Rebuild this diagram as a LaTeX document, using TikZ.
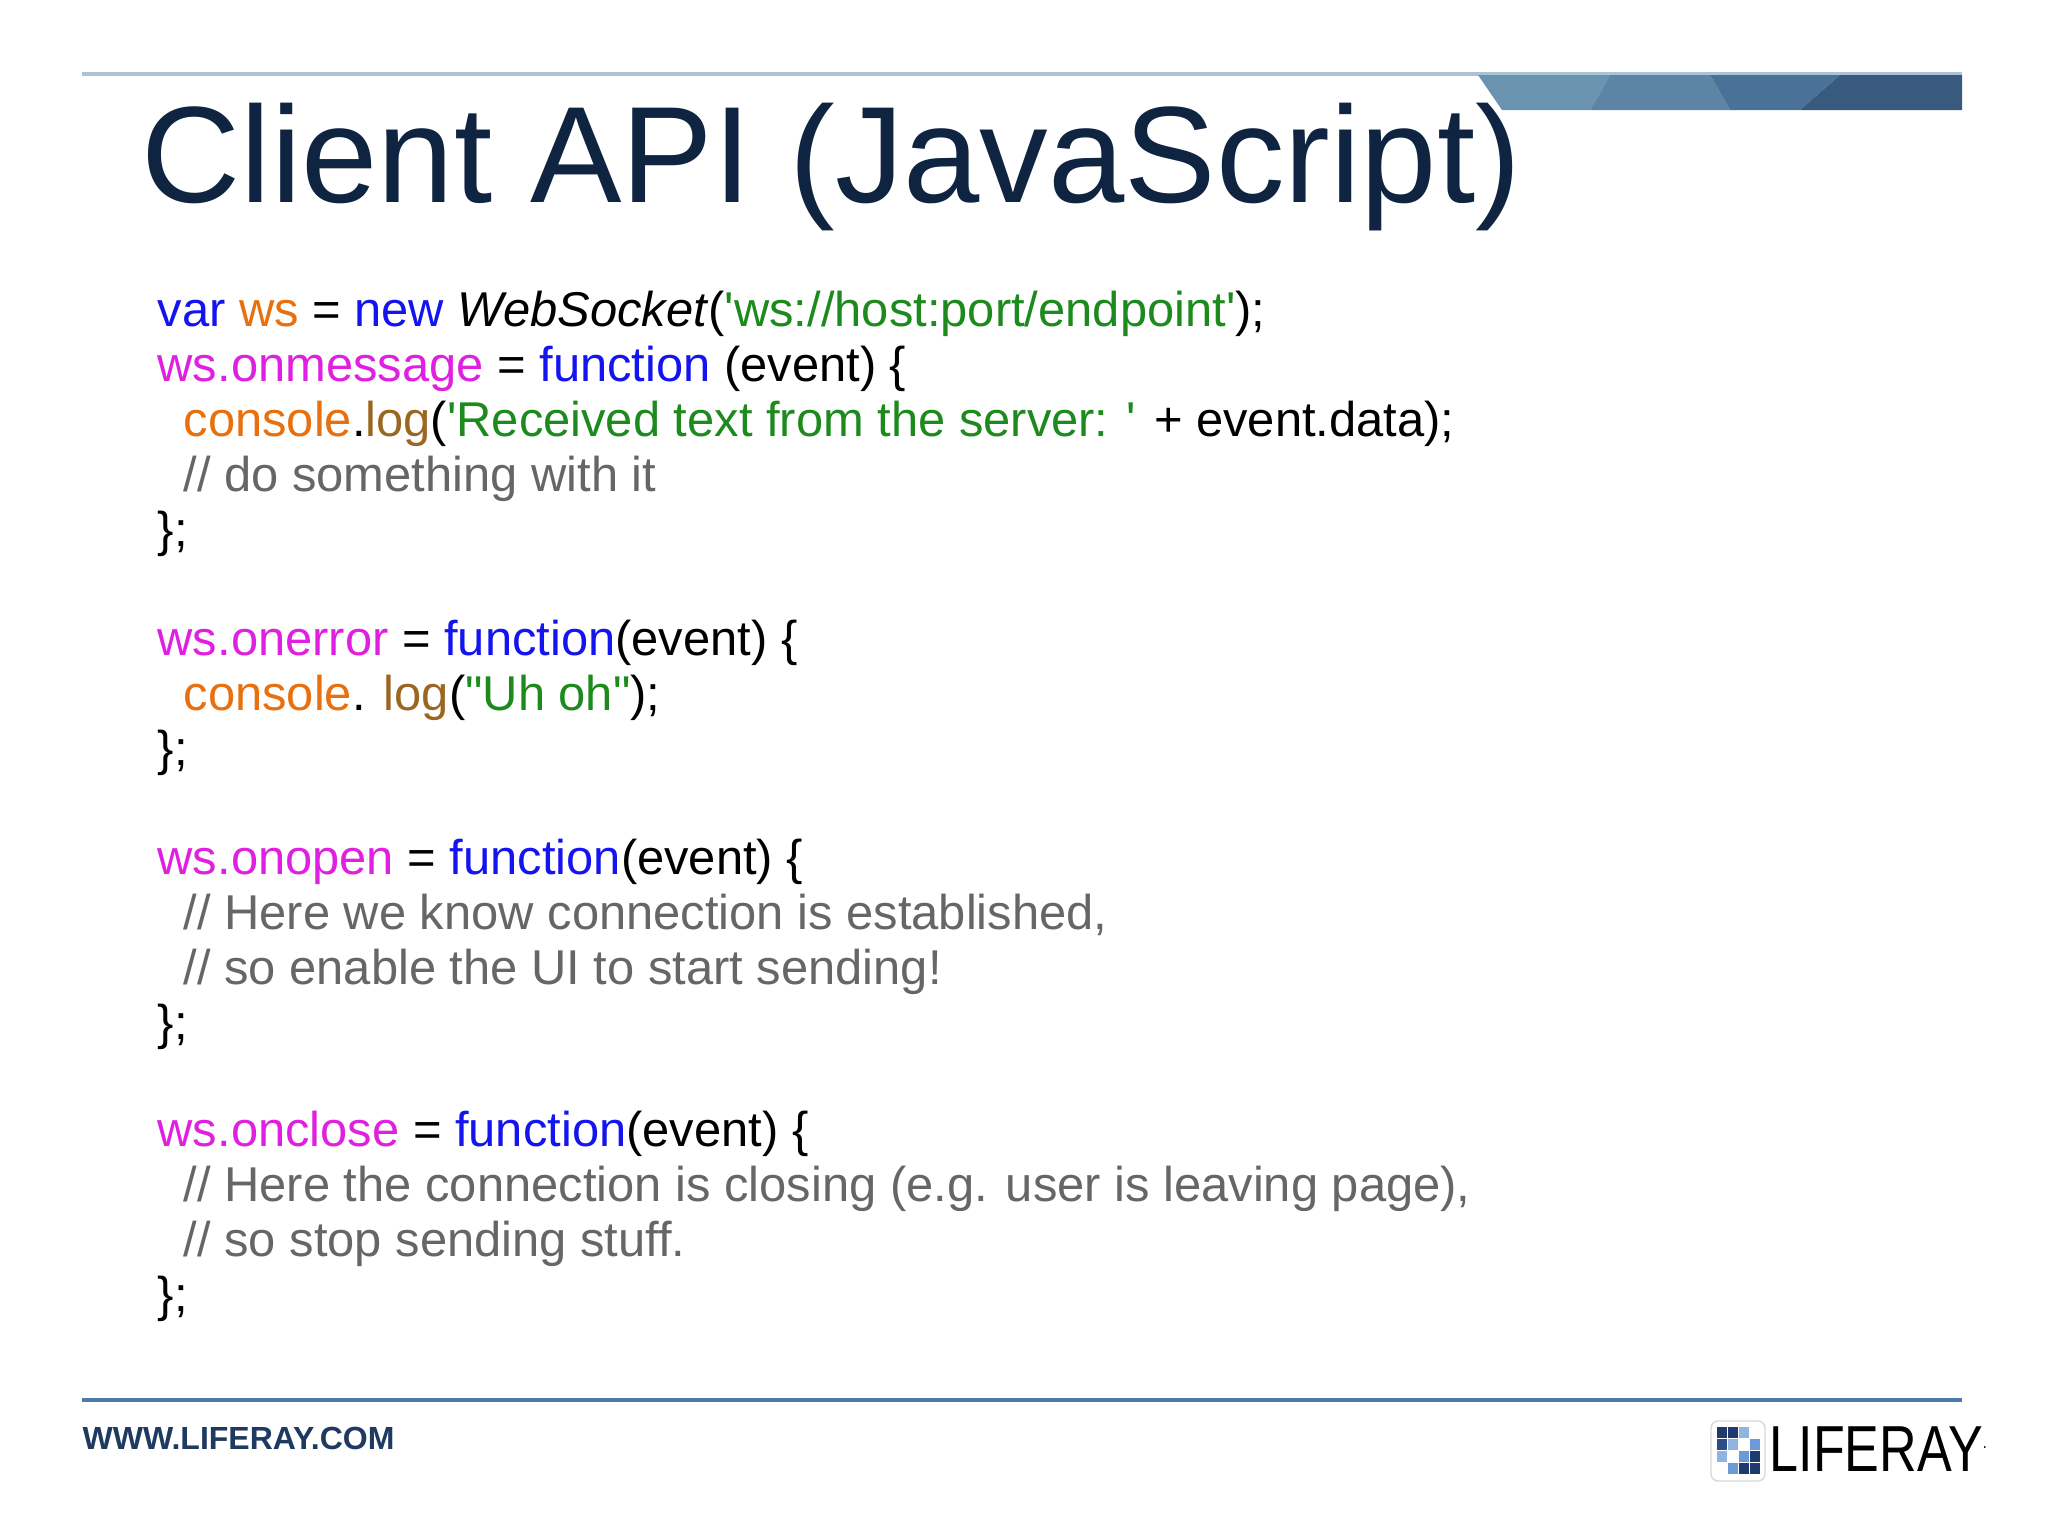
\documentclass[tikz,border=0pt]{standalone}
\usepackage{fontspec}
\setmainfont{Liberation Sans}
\newfontfamily\code{Liberation Sans}
\newfontfamily\narrowf[FakeStretch=0.8]{Liberation Sans}
\definecolor{kw}{HTML}{1414F0}
\definecolor{org}{HTML}{E8700E}
\definecolor{mag}{HTML}{E020E0}
\definecolor{grn}{HTML}{1C8A1C}
\definecolor{brn}{HTML}{9A6620}
\definecolor{cmt}{HTML}{666666}
\definecolor{navy}{HTML}{0F2440}
\definecolor{bA}{HTML}{6A93B0}
\definecolor{bB}{HTML}{5D84A5}
\definecolor{bC}{HTML}{4A7298}
\definecolor{bD}{HTML}{375A7E}
\definecolor{rule}{HTML}{4A7AA5}
\definecolor{wwwc}{HTML}{1F3A60}
\definecolor{toprule}{HTML}{AAC3D7}
\tikzset{cl/.style={anchor=base west,inner sep=0pt,font=\code\fontsize{13.9}{16}\selectfont}}
\newcommand{\K}[1]{\textcolor{kw}{#1}}
\newcommand{\Or}[1]{\textcolor{org}{#1}}
\newcommand{\M}[1]{\textcolor{mag}{#1}}
\newcommand{\G}[1]{\textcolor{grn}{#1}}
\newcommand{\B}[1]{\textcolor{brn}{#1}}
\newcommand{\C}[1]{\textcolor{cmt}{#1}}
\begin{document}
\begin{tikzpicture}[x=0.01cm,y=-0.01cm]
\useasboundingbox (0,0) rectangle (2048,1536);
\fill[white] (0,0) rectangle (2048,1536);
% top rule and banner
\draw[toprule,line width=1.2pt] (82,74) -- (1962,74);
\fill[bA] (1478,75) -- (1610,75) -- (1590,110) -- (1502,110) -- cycle;
\fill[bB] (1610,75) -- (1710,75) -- (1730,110) -- (1590,110) -- cycle;
\fill[bC] (1710,75) -- (1840,75) -- (1800,110) -- (1730,110) -- cycle;
\fill[bD] (1840,75) -- (1962,75) -- (1962,110) -- (1800,110) -- cycle;
\node[anchor=base west,inner sep=0pt,text=navy,font=\fontsize{39}{44}\selectfont] (title) at (141,202) {Client API (JavaScript)};
% code
\node[cl] (l1) at (157,326) {\K{var} \Or{ws} = \K{new} \textit{WebSocket}(\G{'ws://host:port/endpoint'});};
\node[cl] (l2) at (157,381) {\M{ws.onmessage} = \K{function} (event) \{};
\node[cl] (l3) at (183,436) {\Or{console}.\B{log}(\G{'Received text from the server: '} + event.data);};
\node[cl] (l4) at (183,491) {\C{// do something with it}};
\node[cl] (l5) at (157,546) {\};};
\node[cl] (l6) at (157,655) {\M{ws.onerror} = \K{function}(event) \{};
\node[cl] (l7) at (183,710) {\Or{console}. \B{log}(\G{"Uh oh"});};
\node[cl] (l8) at (157,765) {\};};
\node[cl] (l9) at (157,874) {\M{ws.onopen} = \K{function}(event) \{};
\node[cl] (l10) at (183,929) {\C{// Here we know connection is established,}};
\node[cl] (l11) at (183,984) {\C{// so enable the UI to start sending!}};
\node[cl] (l12) at (157,1039) {\};};
\node[cl] (l13) at (157,1146) {\M{ws.onclose} = \K{function}(event) \{};
\node[cl] (l14) at (183,1201) {\C{// Here the connection is closing (e.g. user is leaving page),}};
\node[cl] (l15) at (183,1256) {\C{// so stop sending stuff.}};
\node[cl] (l16) at (157,1311) {\};};
% footer
\draw[rule,line width=1.2pt] (82,1400) -- (1962,1400);
\node[anchor=west,inner sep=0pt,text=wwwc,font=\bfseries\fontsize{9.1}{11}\selectfont] (www) at (82,1438) {WWW.LIFERAY.COM};
% logo
\draw[black!15,fill=white,rounded corners=2pt] (1711,1421) rectangle (1765,1481);
\foreach \i/\j/\c in {0/0/1F3A6E,1/0/1F3A6E,2/0/8FB4E0,0/1/2B4C88,1/1/8FB4E0,3/1/6A9AD8,0/2/8FB4E0,2/2/6A9AD8,3/2/1F3A6E,1/3/6A9AD8,2/3/1F3A6E,3/3/1F3A6E}{
  \definecolor{sq}{HTML}{\c}
  \fill[sq] (1717+\i*11,1427+\j*12) rectangle ++(10,11);
}
\node[anchor=base west,inner sep=0pt,font=\narrowf\fontsize{18.5}{20}\selectfont] (logo) at (1769,1471) {LIFERAY\textsuperscript{\tiny.}};
\end{tikzpicture}
\end{document}
